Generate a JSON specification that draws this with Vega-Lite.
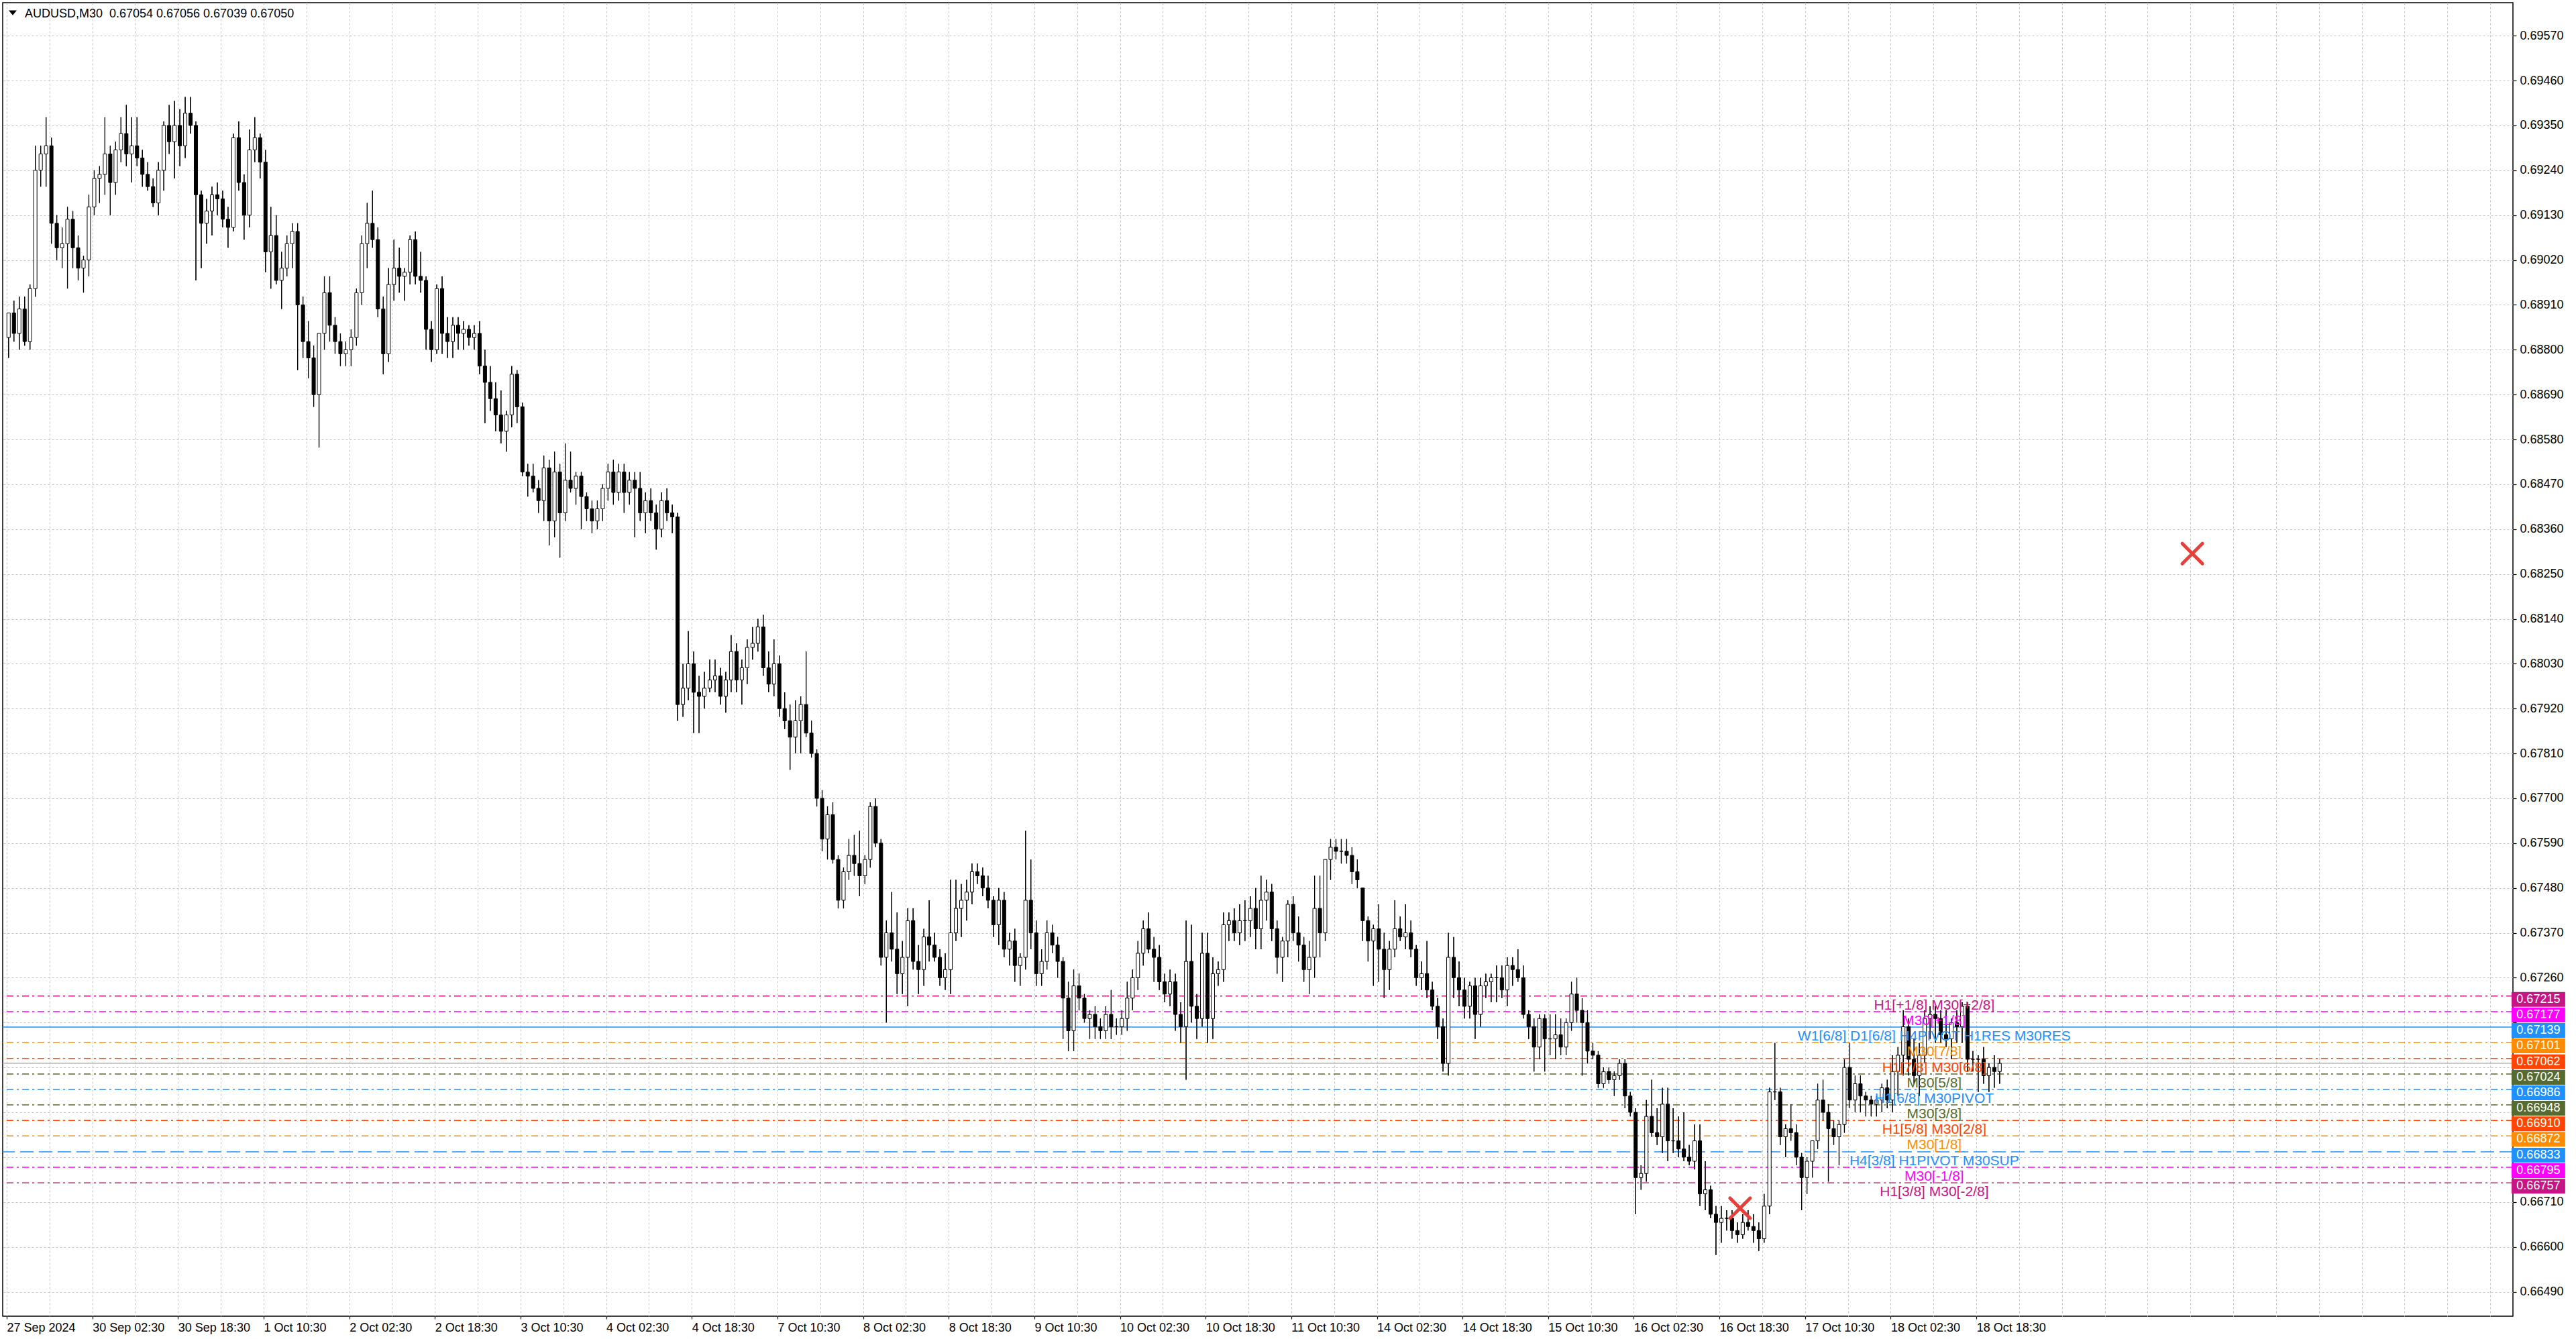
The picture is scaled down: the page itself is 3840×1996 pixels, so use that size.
{
"$schema": "https://vega.github.io/schema/vega-lite/v6.json",
"width": 3742, "height": 1958,
"autosize": {"type": "none"},
"padding": {"left": 4, "top": 4, "right": 94, "bottom": 34},
"background": "white",
"view": {"stroke": "black", "strokeWidth": 1.5},
"config": {"font": "Liberation Sans"},
"datasets": {
"levels": [
{"p":0.67215,"lvl":"+2/8","lab":"H1[+1/8] M30[+2/8]"},
{"p":0.67177,"lvl":"+1/8","lab":"M30[+1/8]"},
{"p":0.67139,"lvl":"RES","lab":"W1[6/8] D1[6/8] H4PIVOT H1RES M30RES"},
{"p":0.67101,"lvl":"7/8","lab":"M30[7/8]"},
{"p":0.67062,"lvl":"6/8","lab":"H1[7/8] M30[6/8]"},
{"p":0.67024,"lvl":"5/8","lab":"M30[5/8]"},
{"p":0.66986,"lvl":"PIVOT","lab":"H1[6/8] M30PIVOT"},
{"p":0.66948,"lvl":"3/8","lab":"M30[3/8]"},
{"p":0.66910,"lvl":"2/8","lab":"H1[5/8] M30[2/8]"},
{"p":0.66872,"lvl":"1/8","lab":"M30[1/8]"},
{"p":0.66833,"lvl":"SUP","lab":"H4[3/8] H1PIVOT M30SUP"},
{"p":0.66795,"lvl":"-1/8","lab":"M30[-1/8]"},
{"p":0.66757,"lvl":"-2/8","lab":"H1[3/8] M30[-2/8]"}
],
"xmarks": [{"t":408.0,"p":0.68300},{"t":323.5,"p":0.66695}],
"bid": [{"p":0.6705}],
"header": [{"t":3.025,"p":0.69615,"txt":"AUDUSD,M30 \u00a00.67054 0.67056 0.67039 0.67050","mt":0.775,"mp":0.69626}],
"bars": [
{"t":0,"o":0.6883,"h":0.6889,"l":0.6878,"c":0.6889},
{"t":1,"o":0.6889,"h":0.6892,"l":0.6882,"c":0.6884},
{"t":2,"o":0.6884,"h":0.6893,"l":0.6880,"c":0.6890},
{"t":3,"o":0.6890,"h":0.6893,"l":0.6881,"c":0.6882},
{"t":4,"o":0.6882,"h":0.6896,"l":0.6880,"c":0.6895},
{"t":5,"o":0.6895,"h":0.6930,"l":0.6893,"c":0.6924},
{"t":6,"o":0.6924,"h":0.6930,"l":0.6920,"c":0.6928},
{"t":7,"o":0.6928,"h":0.6937,"l":0.6920,"c":0.6930},
{"t":8,"o":0.6930,"h":0.6932,"l":0.6906,"c":0.6911},
{"t":9,"o":0.6911,"h":0.6913,"l":0.6902,"c":0.6905},
{"t":10,"o":0.6905,"h":0.6910,"l":0.6900,"c":0.6906},
{"t":11,"o":0.6906,"h":0.6915,"l":0.6895,"c":0.6912},
{"t":12,"o":0.6912,"h":0.6914,"l":0.6900,"c":0.6905},
{"t":13,"o":0.6905,"h":0.6908,"l":0.6897,"c":0.6900},
{"t":14,"o":0.6900,"h":0.6903,"l":0.6894,"c":0.6902},
{"t":15,"o":0.6902,"h":0.6918,"l":0.6898,"c":0.6915},
{"t":16,"o":0.6915,"h":0.6924,"l":0.6913,"c":0.6922},
{"t":17,"o":0.6922,"h":0.6925,"l":0.6916,"c":0.6923},
{"t":18,"o":0.6923,"h":0.6937,"l":0.6918,"c":0.6928},
{"t":19,"o":0.6928,"h":0.6930,"l":0.6913,"c":0.6921},
{"t":20,"o":0.6921,"h":0.6931,"l":0.6918,"c":0.6929},
{"t":21,"o":0.6929,"h":0.6937,"l":0.6926,"c":0.6933},
{"t":22,"o":0.6933,"h":0.6940,"l":0.6925,"c":0.6928},
{"t":23,"o":0.6928,"h":0.6937,"l":0.6921,"c":0.6930},
{"t":24,"o":0.6930,"h":0.6937,"l":0.6925,"c":0.6927},
{"t":25,"o":0.6927,"h":0.6929,"l":0.6920,"c":0.6923},
{"t":26,"o":0.6923,"h":0.6926,"l":0.6919,"c":0.6920},
{"t":27,"o":0.6920,"h":0.6922,"l":0.6915,"c":0.6916},
{"t":28,"o":0.6916,"h":0.6926,"l":0.6913,"c":0.6924},
{"t":29,"o":0.6924,"h":0.6936,"l":0.6919,"c":0.6935},
{"t":30,"o":0.6935,"h":0.6940,"l":0.6928,"c":0.6931},
{"t":31,"o":0.6931,"h":0.6941,"l":0.6922,"c":0.6935},
{"t":32,"o":0.6935,"h":0.6939,"l":0.6925,"c":0.6930},
{"t":33,"o":0.6930,"h":0.6942,"l":0.6927,"c":0.6938},
{"t":34,"o":0.6938,"h":0.6942,"l":0.6933,"c":0.6935},
{"t":35,"o":0.6935,"h":0.6936,"l":0.6897,"c":0.6918},
{"t":36,"o":0.6918,"h":0.6919,"l":0.6900,"c":0.6911},
{"t":37,"o":0.6911,"h":0.6917,"l":0.6906,"c":0.6914},
{"t":38,"o":0.6914,"h":0.6920,"l":0.6908,"c":0.6918},
{"t":39,"o":0.6918,"h":0.6921,"l":0.6913,"c":0.6917},
{"t":40,"o":0.6917,"h":0.6919,"l":0.6910,"c":0.6912},
{"t":41,"o":0.6912,"h":0.6915,"l":0.6905,"c":0.6910},
{"t":42,"o":0.6910,"h":0.6933,"l":0.6909,"c":0.6932},
{"t":43,"o":0.6932,"h":0.6936,"l":0.6919,"c":0.6921},
{"t":44,"o":0.6921,"h":0.6923,"l":0.6907,"c":0.6913},
{"t":45,"o":0.6913,"h":0.6934,"l":0.6910,"c":0.6929},
{"t":46,"o":0.6929,"h":0.6937,"l":0.6926,"c":0.6932},
{"t":47,"o":0.6932,"h":0.6933,"l":0.6922,"c":0.6926},
{"t":48,"o":0.6926,"h":0.6929,"l":0.6899,"c":0.6904},
{"t":49,"o":0.6904,"h":0.6915,"l":0.6895,"c":0.6908},
{"t":50,"o":0.6908,"h":0.6913,"l":0.6896,"c":0.6897},
{"t":51,"o":0.6897,"h":0.6904,"l":0.6890,"c":0.6900},
{"t":52,"o":0.6900,"h":0.6908,"l":0.6898,"c":0.6906},
{"t":53,"o":0.6906,"h":0.6911,"l":0.6900,"c":0.6909},
{"t":54,"o":0.6909,"h":0.6911,"l":0.6875,"c":0.6891},
{"t":55,"o":0.6891,"h":0.6893,"l":0.6878,"c":0.6882},
{"t":56,"o":0.6882,"h":0.6887,"l":0.6873,"c":0.6878},
{"t":57,"o":0.6878,"h":0.6881,"l":0.6866,"c":0.6869},
{"t":58,"o":0.6869,"h":0.6872,"l":0.6856,"c":0.6884},
{"t":59,"o":0.6884,"h":0.6898,"l":0.6880,"c":0.6894},
{"t":60,"o":0.6894,"h":0.6898,"l":0.6882,"c":0.6886},
{"t":61,"o":0.6886,"h":0.6888,"l":0.6879,"c":0.6882},
{"t":62,"o":0.6882,"h":0.6884,"l":0.6876,"c":0.6879},
{"t":63,"o":0.6879,"h":0.6882,"l":0.6876,"c":0.6880},
{"t":64,"o":0.6880,"h":0.6885,"l":0.6876,"c":0.6883},
{"t":65,"o":0.6883,"h":0.6895,"l":0.6881,"c":0.6894},
{"t":66,"o":0.6894,"h":0.6908,"l":0.6891,"c":0.6906},
{"t":67,"o":0.6906,"h":0.6916,"l":0.6900,"c":0.6911},
{"t":68,"o":0.6911,"h":0.6919,"l":0.6905,"c":0.6907},
{"t":69,"o":0.6907,"h":0.6910,"l":0.6888,"c":0.6890},
{"t":70,"o":0.6890,"h":0.6893,"l":0.6874,"c":0.6879},
{"t":71,"o":0.6879,"h":0.6900,"l":0.6877,"c":0.6896},
{"t":72,"o":0.6896,"h":0.6907,"l":0.6892,"c":0.6900},
{"t":73,"o":0.6900,"h":0.6905,"l":0.6894,"c":0.6898},
{"t":74,"o":0.6898,"h":0.6900,"l":0.6892,"c":0.6899},
{"t":75,"o":0.6899,"h":0.6908,"l":0.6896,"c":0.6907},
{"t":76,"o":0.6907,"h":0.6909,"l":0.6896,"c":0.6898},
{"t":77,"o":0.6898,"h":0.6904,"l":0.6894,"c":0.6897},
{"t":78,"o":0.6897,"h":0.6898,"l":0.6880,"c":0.6885},
{"t":79,"o":0.6885,"h":0.6887,"l":0.6877,"c":0.6880},
{"t":80,"o":0.6880,"h":0.6896,"l":0.6879,"c":0.6895},
{"t":81,"o":0.6895,"h":0.6898,"l":0.6879,"c":0.6884},
{"t":82,"o":0.6884,"h":0.6888,"l":0.6878,"c":0.6882},
{"t":83,"o":0.6882,"h":0.6888,"l":0.6878,"c":0.6886},
{"t":84,"o":0.6886,"h":0.6888,"l":0.6880,"c":0.6884},
{"t":85,"o":0.6884,"h":0.6887,"l":0.6880,"c":0.6885},
{"t":86,"o":0.6885,"h":0.6886,"l":0.6881,"c":0.6883},
{"t":87,"o":0.6883,"h":0.6886,"l":0.6880,"c":0.6884},
{"t":88,"o":0.6884,"h":0.6887,"l":0.6874,"c":0.6876},
{"t":89,"o":0.6876,"h":0.6880,"l":0.6862,"c":0.6872},
{"t":90,"o":0.6872,"h":0.6876,"l":0.6865,"c":0.6868},
{"t":91,"o":0.6868,"h":0.6872,"l":0.6860,"c":0.6864},
{"t":92,"o":0.6864,"h":0.6870,"l":0.6857,"c":0.6860},
{"t":93,"o":0.6860,"h":0.6865,"l":0.6855,"c":0.6864},
{"t":94,"o":0.6864,"h":0.6876,"l":0.6861,"c":0.6874},
{"t":95,"o":0.6874,"h":0.6875,"l":0.6862,"c":0.6866},
{"t":96,"o":0.6866,"h":0.6867,"l":0.6849,"c":0.6850},
{"t":97,"o":0.6850,"h":0.6852,"l":0.6844,"c":0.6849},
{"t":98,"o":0.6849,"h":0.6852,"l":0.6845,"c":0.6846},
{"t":99,"o":0.6846,"h":0.6848,"l":0.6840,"c":0.6843},
{"t":100,"o":0.6843,"h":0.6854,"l":0.6838,"c":0.6851},
{"t":101,"o":0.6851,"h":0.6853,"l":0.6832,"c":0.6838},
{"t":102,"o":0.6838,"h":0.6855,"l":0.6834,"c":0.6850},
{"t":103,"o":0.6850,"h":0.6852,"l":0.6829,"c":0.6840},
{"t":104,"o":0.6840,"h":0.6857,"l":0.6838,"c":0.6848},
{"t":105,"o":0.6848,"h":0.6855,"l":0.6845,"c":0.6846},
{"t":106,"o":0.6846,"h":0.6850,"l":0.6842,"c":0.6849},
{"t":107,"o":0.6849,"h":0.6850,"l":0.6836,"c":0.6844},
{"t":108,"o":0.6844,"h":0.6845,"l":0.6838,"c":0.6841},
{"t":109,"o":0.6841,"h":0.6843,"l":0.6835,"c":0.6838},
{"t":110,"o":0.6838,"h":0.6843,"l":0.6836,"c":0.6841},
{"t":111,"o":0.6841,"h":0.6847,"l":0.6838,"c":0.6846},
{"t":112,"o":0.6846,"h":0.6852,"l":0.6843,"c":0.6850},
{"t":113,"o":0.6850,"h":0.6853,"l":0.6842,"c":0.6845},
{"t":114,"o":0.6845,"h":0.6852,"l":0.6843,"c":0.6850},
{"t":115,"o":0.6850,"h":0.6852,"l":0.6840,"c":0.6845},
{"t":116,"o":0.6845,"h":0.6850,"l":0.6842,"c":0.6848},
{"t":117,"o":0.6848,"h":0.6850,"l":0.6834,"c":0.6846},
{"t":118,"o":0.6846,"h":0.6850,"l":0.6838,"c":0.6840},
{"t":119,"o":0.6840,"h":0.6845,"l":0.6835,"c":0.6843},
{"t":120,"o":0.6843,"h":0.6846,"l":0.6838,"c":0.6840},
{"t":121,"o":0.6840,"h":0.6842,"l":0.6831,"c":0.6836},
{"t":122,"o":0.6836,"h":0.6845,"l":0.6834,"c":0.6843},
{"t":123,"o":0.6843,"h":0.6846,"l":0.6838,"c":0.6840},
{"t":124,"o":0.6840,"h":0.6842,"l":0.6835,"c":0.6839},
{"t":125,"o":0.6839,"h":0.6840,"l":0.6789,"c":0.6793},
{"t":126,"o":0.6793,"h":0.6803,"l":0.6790,"c":0.6797},
{"t":127,"o":0.6797,"h":0.6811,"l":0.6794,"c":0.6803},
{"t":128,"o":0.6803,"h":0.6806,"l":0.6786,"c":0.6796},
{"t":129,"o":0.6796,"h":0.6800,"l":0.6786,"c":0.6795},
{"t":130,"o":0.6795,"h":0.6801,"l":0.6792,"c":0.6797},
{"t":131,"o":0.6797,"h":0.6804,"l":0.6796,"c":0.6799},
{"t":132,"o":0.6799,"h":0.6804,"l":0.6796,"c":0.6800},
{"t":133,"o":0.6800,"h":0.6802,"l":0.6793,"c":0.6795},
{"t":134,"o":0.6795,"h":0.6801,"l":0.6791,"c":0.6799},
{"t":135,"o":0.6799,"h":0.6810,"l":0.6796,"c":0.6806},
{"t":136,"o":0.6806,"h":0.6808,"l":0.6796,"c":0.6799},
{"t":137,"o":0.6799,"h":0.6804,"l":0.6793,"c":0.6802},
{"t":138,"o":0.6802,"h":0.6809,"l":0.6798,"c":0.6807},
{"t":139,"o":0.6807,"h":0.6812,"l":0.6804,"c":0.6808},
{"t":140,"o":0.6808,"h":0.6814,"l":0.6806,"c":0.6812},
{"t":141,"o":0.6812,"h":0.6815,"l":0.6800,"c":0.6802},
{"t":142,"o":0.6802,"h":0.6806,"l":0.6796,"c":0.6798},
{"t":143,"o":0.6798,"h":0.6809,"l":0.6795,"c":0.6803},
{"t":144,"o":0.6803,"h":0.6805,"l":0.6790,"c":0.6792},
{"t":145,"o":0.6792,"h":0.6796,"l":0.6787,"c":0.6789},
{"t":146,"o":0.6789,"h":0.6793,"l":0.6777,"c":0.6785},
{"t":147,"o":0.6785,"h":0.6794,"l":0.6781,"c":0.6789},
{"t":148,"o":0.6789,"h":0.6795,"l":0.6781,"c":0.6793},
{"t":149,"o":0.6793,"h":0.6806,"l":0.6785,"c":0.6786},
{"t":150,"o":0.6786,"h":0.6789,"l":0.6780,"c":0.6781},
{"t":151,"o":0.6781,"h":0.6782,"l":0.6768,"c":0.6770},
{"t":152,"o":0.6770,"h":0.6772,"l":0.6757,"c":0.6760},
{"t":153,"o":0.6760,"h":0.6768,"l":0.6755,"c":0.6766},
{"t":154,"o":0.6766,"h":0.6769,"l":0.6754,"c":0.6755},
{"t":155,"o":0.6755,"h":0.6756,"l":0.6743,"c":0.6745},
{"t":156,"o":0.6745,"h":0.6753,"l":0.6743,"c":0.6752},
{"t":157,"o":0.6752,"h":0.6760,"l":0.6750,"c":0.6756},
{"t":158,"o":0.6756,"h":0.6761,"l":0.6751,"c":0.6754},
{"t":159,"o":0.6754,"h":0.6762,"l":0.6746,"c":0.6751},
{"t":160,"o":0.6751,"h":0.6756,"l":0.6749,"c":0.6755},
{"t":161,"o":0.6755,"h":0.6769,"l":0.6753,"c":0.6768},
{"t":162,"o":0.6768,"h":0.6770,"l":0.6758,"c":0.6759},
{"t":163,"o":0.6759,"h":0.6760,"l":0.6729,"c":0.6731},
{"t":164,"o":0.6731,"h":0.6740,"l":0.6715,"c":0.6737},
{"t":165,"o":0.6737,"h":0.6747,"l":0.6730,"c":0.6733},
{"t":166,"o":0.6733,"h":0.6742,"l":0.6722,"c":0.6727},
{"t":167,"o":0.6727,"h":0.6735,"l":0.6722,"c":0.6731},
{"t":168,"o":0.6731,"h":0.6743,"l":0.6719,"c":0.6740},
{"t":169,"o":0.6740,"h":0.6743,"l":0.6728,"c":0.6730},
{"t":170,"o":0.6730,"h":0.6734,"l":0.6722,"c":0.6728},
{"t":171,"o":0.6728,"h":0.6738,"l":0.6724,"c":0.6736},
{"t":172,"o":0.6736,"h":0.6745,"l":0.6730,"c":0.6734},
{"t":173,"o":0.6734,"h":0.6737,"l":0.6730,"c":0.6731},
{"t":174,"o":0.6731,"h":0.6733,"l":0.6724,"c":0.6726},
{"t":175,"o":0.6726,"h":0.6732,"l":0.6723,"c":0.6728},
{"t":176,"o":0.6728,"h":0.6750,"l":0.6722,"c":0.6737},
{"t":177,"o":0.6737,"h":0.6750,"l":0.6735,"c":0.6743},
{"t":178,"o":0.6743,"h":0.6749,"l":0.6736,"c":0.6745},
{"t":179,"o":0.6745,"h":0.6750,"l":0.6740,"c":0.6747},
{"t":180,"o":0.6747,"h":0.6754,"l":0.6744,"c":0.6752},
{"t":181,"o":0.6752,"h":0.6754,"l":0.6749,"c":0.6751},
{"t":182,"o":0.6751,"h":0.6753,"l":0.6746,"c":0.6748},
{"t":183,"o":0.6748,"h":0.6751,"l":0.6743,"c":0.6745},
{"t":184,"o":0.6745,"h":0.6746,"l":0.6736,"c":0.6739},
{"t":185,"o":0.6739,"h":0.6748,"l":0.6734,"c":0.6745},
{"t":186,"o":0.6745,"h":0.6747,"l":0.6731,"c":0.6733},
{"t":187,"o":0.6733,"h":0.6737,"l":0.6729,"c":0.6735},
{"t":188,"o":0.6735,"h":0.6738,"l":0.6725,"c":0.6729},
{"t":189,"o":0.6729,"h":0.6732,"l":0.6724,"c":0.6731},
{"t":190,"o":0.6731,"h":0.6762,"l":0.6728,"c":0.6745},
{"t":191,"o":0.6745,"h":0.6755,"l":0.6733,"c":0.6737},
{"t":192,"o":0.6737,"h":0.6740,"l":0.6724,"c":0.6727},
{"t":193,"o":0.6727,"h":0.6733,"l":0.6724,"c":0.6730},
{"t":194,"o":0.6730,"h":0.6740,"l":0.6728,"c":0.6737},
{"t":195,"o":0.6737,"h":0.6739,"l":0.6732,"c":0.6734},
{"t":196,"o":0.6734,"h":0.6736,"l":0.6726,"c":0.6730},
{"t":197,"o":0.6730,"h":0.6731,"l":0.6711,"c":0.6721},
{"t":198,"o":0.6721,"h":0.6725,"l":0.6708,"c":0.6713},
{"t":199,"o":0.6713,"h":0.6728,"l":0.6708,"c":0.6724},
{"t":200,"o":0.6724,"h":0.6727,"l":0.6718,"c":0.6721},
{"t":201,"o":0.6721,"h":0.6722,"l":0.6715,"c":0.6716},
{"t":202,"o":0.6716,"h":0.6718,"l":0.6711,"c":0.6717},
{"t":203,"o":0.6717,"h":0.6719,"l":0.6711,"c":0.6714},
{"t":204,"o":0.6714,"h":0.6716,"l":0.6711,"c":0.6713},
{"t":205,"o":0.6713,"h":0.6719,"l":0.6711,"c":0.6717},
{"t":206,"o":0.6717,"h":0.6723,"l":0.6711,"c":0.6714},
{"t":207,"o":0.6714,"h":0.6716,"l":0.6712,"c":0.6714},
{"t":208,"o":0.6714,"h":0.6718,"l":0.6712,"c":0.6716},
{"t":209,"o":0.6716,"h":0.6725,"l":0.6713,"c":0.6721},
{"t":210,"o":0.6721,"h":0.6728,"l":0.6718,"c":0.6726},
{"t":211,"o":0.6726,"h":0.6735,"l":0.6723,"c":0.6732},
{"t":212,"o":0.6732,"h":0.6740,"l":0.6729,"c":0.6738},
{"t":213,"o":0.6738,"h":0.6742,"l":0.6732,"c":0.6733},
{"t":214,"o":0.6733,"h":0.6736,"l":0.6725,"c":0.6731},
{"t":215,"o":0.6731,"h":0.6734,"l":0.6723,"c":0.6725},
{"t":216,"o":0.6725,"h":0.6727,"l":0.6720,"c":0.6722},
{"t":217,"o":0.6722,"h":0.6728,"l":0.6719,"c":0.6725},
{"t":218,"o":0.6725,"h":0.6727,"l":0.6713,"c":0.6717},
{"t":219,"o":0.6717,"h":0.6720,"l":0.6710,"c":0.6714},
{"t":220,"o":0.6714,"h":0.6740,"l":0.6701,"c":0.6730},
{"t":221,"o":0.6730,"h":0.6739,"l":0.6715,"c":0.6719},
{"t":222,"o":0.6719,"h":0.6722,"l":0.6711,"c":0.6716},
{"t":223,"o":0.6716,"h":0.6737,"l":0.6714,"c":0.6732},
{"t":224,"o":0.6732,"h":0.6737,"l":0.6710,"c":0.6716},
{"t":225,"o":0.6716,"h":0.6731,"l":0.6711,"c":0.6727},
{"t":226,"o":0.6727,"h":0.6730,"l":0.6724,"c":0.6728},
{"t":227,"o":0.6728,"h":0.6742,"l":0.6725,"c":0.6739},
{"t":228,"o":0.6739,"h":0.6742,"l":0.6735,"c":0.6740},
{"t":229,"o":0.6740,"h":0.6743,"l":0.6735,"c":0.6737},
{"t":230,"o":0.6737,"h":0.6744,"l":0.6734,"c":0.6740},
{"t":231,"o":0.6740,"h":0.6745,"l":0.6735,"c":0.6740},
{"t":232,"o":0.6740,"h":0.6746,"l":0.6736,"c":0.6743},
{"t":233,"o":0.6743,"h":0.6748,"l":0.6733,"c":0.6738},
{"t":234,"o":0.6738,"h":0.6751,"l":0.6733,"c":0.6745},
{"t":235,"o":0.6745,"h":0.6750,"l":0.6740,"c":0.6747},
{"t":236,"o":0.6747,"h":0.6749,"l":0.6735,"c":0.6738},
{"t":237,"o":0.6738,"h":0.6740,"l":0.6727,"c":0.6731},
{"t":238,"o":0.6731,"h":0.6736,"l":0.6725,"c":0.6735},
{"t":239,"o":0.6735,"h":0.6745,"l":0.6731,"c":0.6744},
{"t":240,"o":0.6744,"h":0.6746,"l":0.6735,"c":0.6737},
{"t":241,"o":0.6737,"h":0.6741,"l":0.6730,"c":0.6734},
{"t":242,"o":0.6734,"h":0.6736,"l":0.6725,"c":0.6728},
{"t":243,"o":0.6728,"h":0.6735,"l":0.6722,"c":0.6731},
{"t":244,"o":0.6731,"h":0.6751,"l":0.6726,"c":0.6743},
{"t":245,"o":0.6743,"h":0.6751,"l":0.6731,"c":0.6737},
{"t":246,"o":0.6737,"h":0.6755,"l":0.6735,"c":0.6755},
{"t":247,"o":0.6755,"h":0.6760,"l":0.6750,"c":0.6758},
{"t":248,"o":0.6758,"h":0.6760,"l":0.6755,"c":0.6757},
{"t":249,"o":0.6757,"h":0.6760,"l":0.6754,"c":0.6757},
{"t":250,"o":0.6757,"h":0.6760,"l":0.6754,"c":0.6756},
{"t":251,"o":0.6756,"h":0.6758,"l":0.6749,"c":0.6752},
{"t":252,"o":0.6752,"h":0.6755,"l":0.6748,"c":0.6750},
{"t":253,"o":0.6748,"h":0.6748,"l":0.6735,"c":0.6740},
{"t":254,"o":0.6740,"h":0.6741,"l":0.6730,"c":0.6735},
{"t":255,"o":0.6735,"h":0.6739,"l":0.6724,"c":0.6738},
{"t":256,"o":0.6738,"h":0.6744,"l":0.6725,"c":0.6733},
{"t":257,"o":0.6733,"h":0.6737,"l":0.6721,"c":0.6728},
{"t":258,"o":0.6728,"h":0.6735,"l":0.6723,"c":0.6733},
{"t":259,"o":0.6733,"h":0.6745,"l":0.6731,"c":0.6738},
{"t":260,"o":0.6738,"h":0.6741,"l":0.6735,"c":0.6736},
{"t":261,"o":0.6736,"h":0.6744,"l":0.6733,"c":0.6737},
{"t":262,"o":0.6737,"h":0.6740,"l":0.6731,"c":0.6733},
{"t":263,"o":0.6733,"h":0.6734,"l":0.6724,"c":0.6726},
{"t":264,"o":0.6726,"h":0.6730,"l":0.6723,"c":0.6727},
{"t":265,"o":0.6727,"h":0.6735,"l":0.6721,"c":0.6723},
{"t":266,"o":0.6723,"h":0.6725,"l":0.6718,"c":0.6719},
{"t":267,"o":0.6719,"h":0.6721,"l":0.6711,"c":0.6714},
{"t":268,"o":0.6714,"h":0.6716,"l":0.6703,"c":0.6705},
{"t":269,"o":0.6705,"h":0.6737,"l":0.6702,"c":0.6731},
{"t":270,"o":0.6731,"h":0.6736,"l":0.6721,"c":0.6726},
{"t":271,"o":0.6726,"h":0.6730,"l":0.6719,"c":0.6723},
{"t":272,"o":0.6723,"h":0.6726,"l":0.6716,"c":0.6719},
{"t":273,"o":0.6719,"h":0.6725,"l":0.6716,"c":0.6724},
{"t":274,"o":0.6724,"h":0.6726,"l":0.6711,"c":0.6717},
{"t":275,"o":0.6717,"h":0.6726,"l":0.6714,"c":0.6724},
{"t":276,"o":0.6724,"h":0.6727,"l":0.6721,"c":0.6725},
{"t":277,"o":0.6725,"h":0.6727,"l":0.6720,"c":0.6726},
{"t":278,"o":0.6726,"h":0.6729,"l":0.6720,"c":0.6726},
{"t":279,"o":0.6726,"h":0.6729,"l":0.6721,"c":0.6723},
{"t":280,"o":0.6723,"h":0.6731,"l":0.6719,"c":0.6729},
{"t":281,"o":0.6729,"h":0.6731,"l":0.6724,"c":0.6728},
{"t":282,"o":0.6728,"h":0.6733,"l":0.6725,"c":0.6726},
{"t":283,"o":0.6726,"h":0.6729,"l":0.6716,"c":0.6717},
{"t":284,"o":0.6717,"h":0.6718,"l":0.6711,"c":0.6714},
{"t":285,"o":0.6714,"h":0.6716,"l":0.6703,"c":0.6709},
{"t":286,"o":0.6709,"h":0.6717,"l":0.6706,"c":0.6716},
{"t":287,"o":0.6716,"h":0.6717,"l":0.6703,"c":0.6711},
{"t":288,"o":0.6711,"h":0.6717,"l":0.6707,"c":0.6711},
{"t":289,"o":0.6711,"h":0.6717,"l":0.6706,"c":0.6712},
{"t":290,"o":0.6712,"h":0.6716,"l":0.6707,"c":0.6709},
{"t":291,"o":0.6709,"h":0.6716,"l":0.6707,"c":0.6715},
{"t":292,"o":0.6715,"h":0.6725,"l":0.6713,"c":0.6722},
{"t":293,"o":0.6722,"h":0.6726,"l":0.6715,"c":0.6718},
{"t":294,"o":0.6718,"h":0.6721,"l":0.6702,"c":0.6715},
{"t":295,"o":0.6715,"h":0.6718,"l":0.6705,"c":0.6708},
{"t":296,"o":0.6708,"h":0.6710,"l":0.6706,"c":0.6707},
{"t":297,"o":0.6707,"h":0.6708,"l":0.6699,"c":0.6700},
{"t":298,"o":0.6700,"h":0.6704,"l":0.6699,"c":0.6703},
{"t":299,"o":0.6703,"h":0.6704,"l":0.6700,"c":0.6701},
{"t":300,"o":0.6701,"h":0.6703,"l":0.6697,"c":0.6702},
{"t":301,"o":0.6702,"h":0.6706,"l":0.6701,"c":0.6705},
{"t":302,"o":0.6705,"h":0.6706,"l":0.6694,"c":0.6697},
{"t":303,"o":0.6697,"h":0.6698,"l":0.6692,"c":0.6693},
{"t":304,"o":0.6693,"h":0.6694,"l":0.6668,"c":0.6677},
{"t":305,"o":0.6677,"h":0.6680,"l":0.6674,"c":0.6678},
{"t":306,"o":0.6678,"h":0.6696,"l":0.6676,"c":0.6692},
{"t":307,"o":0.6692,"h":0.6701,"l":0.6687,"c":0.6688},
{"t":308,"o":0.6688,"h":0.6694,"l":0.6685,"c":0.6687},
{"t":309,"o":0.6687,"h":0.6699,"l":0.6683,"c":0.6695},
{"t":310,"o":0.6695,"h":0.6699,"l":0.6681,"c":0.6686},
{"t":311,"o":0.6686,"h":0.6694,"l":0.6683,"c":0.6686},
{"t":312,"o":0.6686,"h":0.6692,"l":0.6682,"c":0.6684},
{"t":313,"o":0.6684,"h":0.6693,"l":0.6681,"c":0.6682},
{"t":314,"o":0.6682,"h":0.6685,"l":0.6680,"c":0.6681},
{"t":315,"o":0.6681,"h":0.6690,"l":0.6679,"c":0.6686},
{"t":316,"o":0.6686,"h":0.6690,"l":0.6670,"c":0.6673},
{"t":317,"o":0.6673,"h":0.6681,"l":0.6669,"c":0.6674},
{"t":318,"o":0.6674,"h":0.6675,"l":0.6667,"c":0.6668},
{"t":319,"o":0.6668,"h":0.6670,"l":0.6658,"c":0.6666},
{"t":320,"o":0.6666,"h":0.6670,"l":0.6661,"c":0.6667},
{"t":321,"o":0.6667,"h":0.6669,"l":0.6664,"c":0.6667},
{"t":322,"o":0.6667,"h":0.6669,"l":0.6662,"c":0.6664},
{"t":323,"o":0.6664,"h":0.6666,"l":0.6661,"c":0.6663},
{"t":324,"o":0.6663,"h":0.6668,"l":0.6662,"c":0.6666},
{"t":325,"o":0.6666,"h":0.6669,"l":0.6664,"c":0.6665},
{"t":326,"o":0.6665,"h":0.6668,"l":0.6661,"c":0.6664},
{"t":327,"o":0.6664,"h":0.6666,"l":0.6659,"c":0.6662},
{"t":328,"o":0.6662,"h":0.6673,"l":0.6661,"c":0.6670},
{"t":329,"o":0.6670,"h":0.6699,"l":0.6668,"c":0.6698},
{"t":330,"o":0.6698,"h":0.6710,"l":0.6696,"c":0.6698},
{"t":331,"o":0.6698,"h":0.6699,"l":0.6685,"c":0.6687},
{"t":332,"o":0.6687,"h":0.6690,"l":0.6682,"c":0.6689},
{"t":333,"o":0.6689,"h":0.6695,"l":0.6686,"c":0.6688},
{"t":334,"o":0.6688,"h":0.6690,"l":0.6680,"c":0.6682},
{"t":335,"o":0.6682,"h":0.6683,"l":0.6669,"c":0.6677},
{"t":336,"o":0.6677,"h":0.6682,"l":0.6673,"c":0.6681},
{"t":337,"o":0.6681,"h":0.6686,"l":0.6677,"c":0.6686},
{"t":338,"o":0.6686,"h":0.6700,"l":0.6684,"c":0.6696},
{"t":339,"o":0.6696,"h":0.6701,"l":0.6691,"c":0.6693},
{"t":340,"o":0.6693,"h":0.6695,"l":0.6676,"c":0.6689},
{"t":341,"o":0.6689,"h":0.6691,"l":0.6685,"c":0.6687},
{"t":342,"o":0.6687,"h":0.6691,"l":0.6680,"c":0.6690},
{"t":343,"o":0.6690,"h":0.6706,"l":0.6688,"c":0.6704},
{"t":344,"o":0.6704,"h":0.6710,"l":0.6694,"c":0.6696},
{"t":345,"o":0.6696,"h":0.6702,"l":0.6693,"c":0.6700},
{"t":346,"o":0.6700,"h":0.6702,"l":0.6693,"c":0.6697},
{"t":347,"o":0.6697,"h":0.6698,"l":0.6692,"c":0.6696},
{"t":348,"o":0.6696,"h":0.6697,"l":0.6692,"c":0.6695},
{"t":349,"o":0.6695,"h":0.6697,"l":0.6692,"c":0.6696},
{"t":350,"o":0.6696,"h":0.6700,"l":0.6693,"c":0.6699},
{"t":351,"o":0.6699,"h":0.6701,"l":0.6694,"c":0.6696},
{"t":352,"o":0.6696,"h":0.6707,"l":0.6693,"c":0.6703},
{"t":353,"o":0.6703,"h":0.6709,"l":0.6697,"c":0.6707},
{"t":354,"o":0.6707,"h":0.6718,"l":0.6702,"c":0.6714},
{"t":355,"o":0.6714,"h":0.6716,"l":0.6702,"c":0.6706},
{"t":356,"o":0.6706,"h":0.6711,"l":0.6700,"c":0.6702},
{"t":357,"o":0.6702,"h":0.6710,"l":0.6697,"c":0.6707},
{"t":358,"o":0.6707,"h":0.6718,"l":0.6705,"c":0.6716},
{"t":359,"o":0.6716,"h":0.6719,"l":0.6711,"c":0.6717},
{"t":360,"o":0.6717,"h":0.6719,"l":0.6710,"c":0.6716},
{"t":361,"o":0.6716,"h":0.6718,"l":0.6710,"c":0.6712},
{"t":362,"o":0.6712,"h":0.6718,"l":0.6709,"c":0.6711},
{"t":363,"o":0.6711,"h":0.6716,"l":0.6706,"c":0.6715},
{"t":364,"o":0.6715,"h":0.6718,"l":0.6710,"c":0.6714},
{"t":365,"o":0.6714,"h":0.6720,"l":0.6710,"c":0.6719},
{"t":366,"o":0.6719,"h":0.6720,"l":0.6703,"c":0.6706},
{"t":367,"o":0.6706,"h":0.6708,"l":0.6703,"c":0.6706},
{"t":368,"o":0.6706,"h":0.6707,"l":0.6698,"c":0.6706},
{"t":369,"o":0.6706,"h":0.6709,"l":0.6700,"c":0.6702},
{"t":370,"o":0.6702,"h":0.6705,"l":0.6698,"c":0.6704},
{"t":371,"o":0.6704,"h":0.6707,"l":0.6699,"c":0.6703},
{"t":372,"o":0.6703,"h":0.6706,"l":0.6700,"c":0.67050}
]
},
"layer": [
{
"data": {"name": "bars"},
"mark": {"type": "rule", "color": "black", "strokeWidth": 1.2},
"encoding": {
"x": {"field": "t", "type": "quantitative", "title": null,
"scale": {"domain": [-0.475, 467.275], "nice": false, "zero": false},
"axis": {
"orient": "bottom", "title": null,
"values": [-0.35,7.65,15.65,23.65,31.65,39.65,47.65,55.65,63.65,71.65,79.65,87.65,95.65,103.65,111.65,119.65,127.65,135.65,143.65,151.65,159.65,167.65,175.65,183.65,191.65,199.65,207.65,215.65,223.65,231.65,239.65,247.65,255.65,263.65,271.65,279.65,287.65,295.65,303.65,311.65,319.65,327.65,335.65,343.65,351.65,359.65,367.65,375.65,383.65,391.65,399.65,407.65,415.65,423.65,431.65,439.65,447.65,455.65,463.65],
"grid": true, "gridColor": "#C4C4C4", "gridDash": [3, 3], "gridWidth": 1,
"domain": false, "ticks": true, "tickSize": 4, "tickWidth": 1.2,
"tickColor": {"condition": {"test": "round((datum.value + 0.35) / 8) % 2 == 0 && round((datum.value + 0.35) / 16) <= 23", "value": "black"}, "value": "transparent"},
"labelExpr": "(round((datum.value + 0.35) / 8) % 2 == 0 && round((datum.value + 0.35) / 16) <= 23) ? ['27 Sep 2024','30 Sep 02:30','30 Sep 18:30','1 Oct 10:30','2 Oct 02:30','2 Oct 18:30','3 Oct 10:30','4 Oct 02:30','4 Oct 18:30','7 Oct 10:30','8 Oct 02:30','8 Oct 18:30','9 Oct 10:30','10 Oct 02:30','10 Oct 18:30','11 Oct 10:30','14 Oct 02:30','14 Oct 18:30','15 Oct 10:30','16 Oct 02:30','16 Oct 18:30','17 Oct 10:30','18 Oct 02:30','18 Oct 18:30'][round((datum.value + 0.35) / 16)] : ''",
"labelAlign": "left", "labelBaseline": "top", "labelFont": "Liberation Sans", "labelFontSize": 18, "labelColor": "black",
"labelPadding": 4, "labelFlush": false, "labelOverlap": false, "labelBound": false
}
},
"y": {"field": "l", "type": "quantitative", "title": null,
"scale": {"domain": [0.6643, 0.69651], "nice": false, "zero": false},
"axis": {
"orient": "right", "title": null,
"values": [0.6649,0.666,0.6671,0.6682,0.6693,0.6704,0.6715,0.6726,0.6737,0.6748,0.6759,0.677,0.6781,0.6792,0.6803,0.6814,0.6825,0.6836,0.6847,0.6858,0.6869,0.688,0.6891,0.6902,0.6913,0.6924,0.6935,0.6946,0.6957],
"grid": true, "gridColor": "#C4C4C4", "gridDash": [3, 3], "gridWidth": 1,
"domain": false, "ticks": true, "tickSize": 5, "tickColor": "black", "tickWidth": 1.2,
"labelExpr": "(datum.value > 0.6675 && datum.value < 0.6722) ? '' : format(datum.value, '.5f')",
"labelFont": "Liberation Sans", "labelFontSize": 18, "labelColor": "black",
"labelPadding": 5, "labelOverlap": false, "labelBound": false
}
},
"y2": {"field": "h"}
}
},
{
"data": {"name": "levels"},
"mark": {"type": "rule", "strokeWidth": 1.5},
"encoding": {
"y": {"field": "p", "type": "quantitative", "title": null, "scale": {"domain": [0.6643, 0.69651], "nice": false, "zero": false}},
"color": {"field": "lvl", "type": "nominal", "legend": null, "scale": {"domain": ["+2/8","+1/8","RES","7/8","6/8","5/8","PIVOT","3/8","2/8","1/8","SUP","-1/8","-2/8"], "range": ["#C71585","#FF00FF","#1E90FF","#FF8C00","#FF4500","#556B2F","#1E90FF","#556B2F","#FF4500","#FF8C00","#1E90FF","#FF00FF","#C71585"]}},
"strokeDash": {"field": "lvl", "type": "nominal", "legend": null, "scale": {"domain": ["+2/8","+1/8","RES","7/8","6/8","5/8","PIVOT","3/8","2/8","1/8","SUP","-1/8","-2/8"], "range": [[10,5,3,5],[10,5,3,5],[1,0],[10,5,3,5],[10,5,3,5],[10,5,3,5],[10,5,3,5],[10,5,3,5],[10,5,3,5],[10,5,3,5],[20,8],[10,5,3,5],[10,5,3,5]]}}
}
},
{
"data": {"name": "bid"},
"mark": {"type": "rule", "color": "#B8B8B8", "strokeWidth": 1.5},
"encoding": {
"y": {"field": "p", "type": "quantitative", "title": null, "scale": {"domain": [0.6643, 0.69651], "nice": false, "zero": false}}
}
},
{
"data": {"name": "bars"},
"mark": {"type": "rule", "color": "black", "strokeWidth": 1.2},
"encoding": {
"x": {"field": "t", "type": "quantitative", "title": null, "scale": {"domain": [-0.475, 467.275], "nice": false, "zero": false}},
"y": {"field": "l", "type": "quantitative", "title": null, "scale": {"domain": [0.6643, 0.69651], "nice": false, "zero": false}},
"y2": {"field": "h"}
}
},
{
"data": {"name": "bars"},
"mark": {"type": "bar", "width": 5, "stroke": "black", "strokeWidth": 1},
"encoding": {
"x": {"field": "t", "type": "quantitative", "title": null, "scale": {"domain": [-0.475, 467.275], "nice": false, "zero": false}},
"y": {"field": "o", "type": "quantitative", "title": null, "scale": {"domain": [0.6643, 0.69651], "nice": false, "zero": false}},
"y2": {"field": "c"},
"fill": {"condition": {"test": "datum.c >= datum.o", "value": "white"}, "value": "black"}
}
},
{
"data": {"name": "levels"},
"mark": {"type": "text", "align": "center", "baseline": "top", "dy": 3, "font": "Liberation Sans", "fontSize": 21},
"encoding": {
"x": {"datum": 359.78, "title": null, "scale": {"domain": [-0.475, 467.275], "nice": false, "zero": false}},
"y": {"field": "p", "type": "quantitative", "title": null, "scale": {"domain": [0.6643, 0.69651], "nice": false, "zero": false}},
"text": {"field": "lab"},
"color": {"field": "lvl", "type": "nominal", "legend": null, "scale": {"domain": ["+2/8","+1/8","RES","7/8","6/8","5/8","PIVOT","3/8","2/8","1/8","SUP","-1/8","-2/8"], "range": ["#C71585","#FF00FF","#1E90FF","#FF8C00","#FF4500","#556B2F","#1E90FF","#556B2F","#FF4500","#FF8C00","#1E90FF","#FF00FF","#C71585"]}}
}
},
{
"data": {"name": "levels"},
"mark": {"type": "tick", "orient": "horizontal", "size": 80, "thickness": 22, "yOffset": 5, "opacity": 1},
"encoding": {
"x": {"datum": 472.65, "title": null, "scale": {"domain": [-0.475, 467.275], "nice": false, "zero": false}},
"y": {"field": "p", "type": "quantitative", "title": null, "scale": {"domain": [0.6643, 0.69651], "nice": false, "zero": false}},
"color": {"field": "lvl", "type": "nominal", "legend": null, "scale": {"domain": ["+2/8","+1/8","RES","7/8","6/8","5/8","PIVOT","3/8","2/8","1/8","SUP","-1/8","-2/8"], "range": ["#C71585","#FF00FF","#1E90FF","#FF8C00","#FF4500","#556B2F","#1E90FF","#556B2F","#FF4500","#FF8C00","#1E90FF","#FF00FF","#C71585"]}}
}
},
{
"data": {"name": "levels"},
"mark": {"type": "text", "align": "center", "baseline": "middle", "yOffset": 5, "font": "Liberation Sans", "fontSize": 18, "color": "white"},
"encoding": {
"x": {"datum": 472.65, "title": null, "scale": {"domain": [-0.475, 467.275], "nice": false, "zero": false}},
"y": {"field": "p", "type": "quantitative", "title": null, "scale": {"domain": [0.6643, 0.69651], "nice": false, "zero": false}},
"text": {"field": "p", "type": "quantitative", "format": ".5f"}
}
},
{
"data": {"name": "xmarks"},
"mark": {"type": "point", "shape": "M-1,-1L1,1M-1,1L1,-1", "filled": false, "size": 900, "strokeWidth": 5, "color": "#E5403A", "opacity": 1, "strokeCap": "round"},
"encoding": {
"x": {"field": "t", "type": "quantitative", "title": null, "scale": {"domain": [-0.475, 467.275], "nice": false, "zero": false}},
"y": {"field": "p", "type": "quantitative", "title": null, "scale": {"domain": [0.6643, 0.69651], "nice": false, "zero": false}}
}
},
{
"data": {"name": "header"},
"mark": {"type": "point", "shape": "M-1,-0.6L1,-0.6L0,0.6Z", "filled": true, "size": 144, "color": "black", "opacity": 1},
"encoding": {
"x": {"field": "mt", "type": "quantitative", "title": null, "scale": {"domain": [-0.475, 467.275], "nice": false, "zero": false}},
"y": {"field": "mp", "type": "quantitative", "title": null, "scale": {"domain": [0.6643, 0.69651], "nice": false, "zero": false}}
}
},
{
"data": {"name": "header"},
"mark": {"type": "text", "align": "left", "baseline": "alphabetic", "font": "Liberation Sans", "fontSize": 18, "color": "black"},
"encoding": {
"x": {"field": "t", "type": "quantitative", "title": null, "scale": {"domain": [-0.475, 467.275], "nice": false, "zero": false}},
"y": {"field": "p", "type": "quantitative", "title": null, "scale": {"domain": [0.6643, 0.69651], "nice": false, "zero": false}},
"text": {"field": "txt"}
}
}
]
}
